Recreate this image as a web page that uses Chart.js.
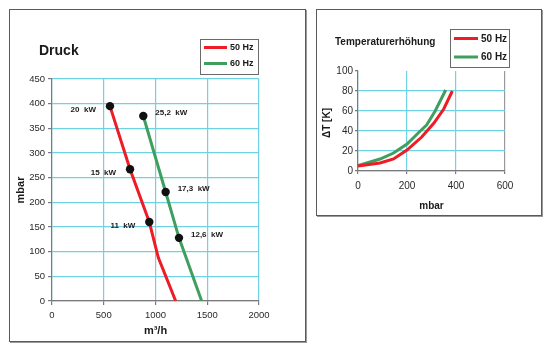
<!DOCTYPE html>
<html>
<head>
<meta charset="utf-8">
<script src="https://cdn.jsdelivr.net/npm/chart.js@4"></script>
<style>
  html, body { margin: 0; padding: 0; background: #ffffff; width: 556px; height: 355px; overflow: hidden; }
  .box { position: absolute; border: 1px solid #5a5a5a; box-shadow: 1px 1px 0 #9a9a9a; background: #fff; }
  .box canvas { position: absolute; left: 0; top: 0; }
  #boxL { left: 9px; top: 9px; width: 295px; height: 331px; }
  #boxR { left: 316px; top: 9px; width: 224px; height: 205px; }
</style>
</head>
<body>
<div class="box" id="boxL"><canvas id="cL" width="295" height="331"></canvas></div>
<div class="box" id="boxR"><canvas id="cR" width="224" height="205"></canvas></div>
<script>
// ---------- Data: Druck (pressure vs flow) ----------
const druckTitle = 'Druck';
const druckXTicks = [0, 500, 1000, 1500, 2000];
const druckYTicks = [0, 50, 100, 150, 200, 250, 300, 350, 400, 450];
const flow50 = [560, 754, 940, 1027, 1195];          // m³/h
const press50 = [395, 267, 160, 88, 0];              // mbar
const flow60 = [882, 1098, 1227, 1446];
const press60 = [375, 221, 128, 0];
const power50Flow = [560, 754, 940];
const power50Press = [395, 267, 160];
const power50Labels = ['20  kW', '15  kW', '11  kW'];
const power60Flow = [882, 1098, 1227];
const power60Press = [375, 221, 128];
const power60Labels = ['25,2  kW', '17,3  kW', '12,6  kW'];

// ---------- Data: Temperaturerhöhung ----------
const tempTitle = 'Temperaturerhöhung';
const tempXTicks = [0, 200, 400, 600];
const tempYTicks = [0, 20, 40, 60, 80, 100];
const tempP50 = [0, 90, 145, 200, 260, 310, 350, 385];
const tempT50 = [5, 8, 12, 21, 34, 48, 62, 80];
const tempP60 = [0, 90, 145, 200, 250, 280, 315, 358];
const tempT60 = [5.5, 12, 18, 27, 39, 46, 60, 81];

const seriesNames = ['50 Hz', '60 Hz'];

const RED = '#ee1c25';
const GREEN = '#3f9f5e';
const GRID = '#6fd2e2';
const AXIS = '#7a7a7a';
const FONT = '"Liberation Sans", Arial, sans-serif';

const pts = (xs, ys) => xs.map((x, i) => ({ x: x, y: ys[i] }));
const plain = (v) => String(v);

function legendPlugin(cfg) {
  return {
    id: 'boxLegend',
    afterDraw(chart) {
      const c = chart.ctx;
      c.save();
      c.fillStyle = '#fff';
      c.fillRect(cfg.x, cfg.y, cfg.w, cfg.h);
      c.strokeStyle = '#6a6a6a';
      c.lineWidth = 1;
      c.strokeRect(cfg.x + 0.5, cfg.y + 0.5, cfg.w, cfg.h);
      const colors = [RED, GREEN];
      seriesNames.forEach((name, i) => {
        const y = cfg.rowY[i];
        c.strokeStyle = colors[i];
        c.lineWidth = 3;
        c.beginPath();
        c.moveTo(cfg.lineX0, y);
        c.lineTo(cfg.lineX1, y);
        c.stroke();
        c.fillStyle = '#1a1a1a';
        c.font = 'bold ' + cfg.fontSize + 'px ' + FONT;
        c.textAlign = 'left';
        c.textBaseline = 'middle';
        c.fillText(name, cfg.textX, y + 0.5);
      });
      c.restore();
    }
  };
}

function textPlugin(cfg) {
  return {
    id: 'texts',
    afterDraw(chart) {
      const c = chart.ctx;
      const a = chart.chartArea;
      c.save();
      c.fillStyle = '#1a1a1a';
      c.font = 'bold ' + cfg.titleSize + 'px ' + FONT;
      c.textAlign = 'left';
      c.textBaseline = 'middle';
      c.fillText(cfg.title, cfg.titleX, cfg.titleY);
      c.font = 'bold ' + cfg.axisSize + 'px ' + FONT;
      c.textAlign = 'center';
      c.fillText(cfg.xTitle, (a.left + a.right) / 2, cfg.xTitleY);
      c.translate(cfg.yTitleX, (a.top + a.bottom) / 2 + cfg.yTitleDy);
      c.rotate(-Math.PI / 2);
      c.fillText(cfg.yTitle, 0, 0);
      c.restore();
    }
  };
}

const pointLabelPlugin = {
  id: 'pointLabels',
  afterDatasetsDraw(chart) {
    const c = chart.ctx;
    c.save();
    c.fillStyle = '#1a1a1a';
    c.font = 'bold 8px ' + FONT;
    c.textBaseline = 'middle';
    chart.data.datasets.forEach((ds, di) => {
      if (!ds.pointLabels) return;
      const meta = chart.getDatasetMeta(di);
      meta.data.forEach((el, i) => {
        const t = ds.pointLabels[i];
        if (ds.labelSide === 'left') {
          c.textAlign = 'right';
          c.fillText(t, el.x - 14, el.y + 4);
        } else {
          c.textAlign = 'left';
          c.fillText(t, el.x + 12, el.y - 3);
        }
      });
    });
    c.restore();
  }
};

function fixedTicks(values) {
  return function (scale) {
    scale.ticks = values.map(v => ({ value: v }));
  };
}

// ---------- Left chart ----------
new Chart(document.getElementById('cL'), {
  type: 'scatter',
  data: {
    datasets: [
      { label: 'kW 50', data: pts(power50Flow, power50Press), pointRadius: 4.2, pointBorderWidth: 0, pointBackgroundColor: '#111', pointBorderColor: '#111', showLine: false, order: 0, pointLabels: power50Labels, labelSide: 'left' },
      { label: 'kW 60', data: pts(power60Flow, power60Press), pointRadius: 4.2, pointBorderWidth: 0, pointBackgroundColor: '#111', pointBorderColor: '#111', showLine: false, order: 0, pointLabels: power60Labels, labelSide: 'right' },
      { label: seriesNames[0], data: pts(flow50, press50), showLine: true, borderColor: RED, borderWidth: 3, pointRadius: 0, order: 1 },
      { label: seriesNames[1], data: pts(flow60, press60), showLine: true, borderColor: GREEN, borderWidth: 3, pointRadius: 0, order: 1 }
    ]
  },
  options: {
    responsive: false,
    animation: false,
    events: [],
    layout: { padding: { left: 0, top: 69, right: 46, bottom: 0 } },
    plugins: { legend: { display: false }, title: { display: false }, tooltip: { enabled: false } },
    scales: {
      x: {
        type: 'linear', min: 0, max: 2000,
        afterBuildTicks: fixedTicks(druckXTicks),
        afterFit(s) { s.height = 40; },
        grid: { color: GRID, lineWidth: 1.2, tickColor: AXIS, tickLength: 4, drawOnChartArea: true },
        border: { color: AXIS, width: 1.2 },
        ticks: { color: '#2a2a2a', padding: 5, font: { family: FONT, size: 9.5 }, maxRotation: 0, callback: plain }
      },
      y: {
        type: 'linear', min: 0, max: 450,
        afterBuildTicks: fixedTicks(druckYTicks),
        afterFit(s) { s.width = 42; },
        grid: { color: GRID, lineWidth: 1.2, tickColor: AXIS, tickLength: 4 },
        border: { color: AXIS, width: 1.2 },
        ticks: { color: '#2a2a2a', padding: 3, font: { family: FONT, size: 9.5 }, callback: plain }
      }
    }
  },
  plugins: [
    pointLabelPlugin,
    legendPlugin({ x: 190, y: 29, w: 58, h: 35, lineX0: 194, lineX1: 217, rowY: [37.5, 53.5], textX: 220, fontSize: 9 }),
    textPlugin({ title: druckTitle, titleSize: 14, titleX: 29, titleY: 41, axisSize: 11, xTitle: 'm³/h', xTitleY: 321, yTitle: 'mbar', yTitleX: 11, yTitleDy: 0 })
  ]
});

// ---------- Right chart ----------
new Chart(document.getElementById('cR'), {
  type: 'scatter',
  data: {
    datasets: [
      { label: seriesNames[0], data: pts(tempP50, tempT50), showLine: true, borderColor: RED, borderWidth: 3, pointRadius: 0 },
      { label: seriesNames[1], data: pts(tempP60, tempT60), showLine: true, borderColor: GREEN, borderWidth: 3, pointRadius: 0 }
    ]
  },
  options: {
    responsive: false,
    animation: false,
    events: [],
    layout: { padding: { left: 0, top: 61, right: 36, bottom: 0 } },
    plugins: { legend: { display: false }, title: { display: false }, tooltip: { enabled: false } },
    scales: {
      x: {
        type: 'linear', min: 0, max: 600,
        afterBuildTicks: fixedTicks(tempXTicks),
        afterFit(s) { s.height = 44; },
        grid: { color: (ctx) => (ctx.tick && ctx.tick.value === 600 ? '#9a9a9a' : GRID), lineWidth: 1.2, tickColor: AXIS, tickLength: 3 },
        border: { color: AXIS, width: 1.2 },
        ticks: { color: '#2a2a2a', padding: 6, font: { family: FONT, size: 10 }, maxRotation: 0, callback: plain }
      },
      y: {
        type: 'linear', min: 0, max: 100,
        afterBuildTicks: fixedTicks(tempYTicks),
        afterFit(s) { s.width = 41; },
        grid: { color: (ctx) => (ctx.tick && ctx.tick.value === 100 ? 'rgba(0,0,0,0)' : GRID), lineWidth: 1.2, tickColor: AXIS, tickLength: 3 },
        border: { color: AXIS, width: 1.2 },
        ticks: { color: '#2a2a2a', padding: 2, font: { family: FONT, size: 10 }, callback: plain }
      }
    }
  },
  plugins: [
    legendPlugin({ x: 133, y: 19, w: 59, h: 38, lineX0: 137, lineX1: 161, rowY: [28.5, 47], textX: 164, fontSize: 10 }),
    textPlugin({ title: tempTitle, titleSize: 10, titleX: 18, titleY: 32, axisSize: 10, xTitle: 'mbar', xTitleY: 196, yTitle: 'ΔT [K]', yTitleX: 10, yTitleDy: 2 })
  ]
});
</script>
</body>
</html>
